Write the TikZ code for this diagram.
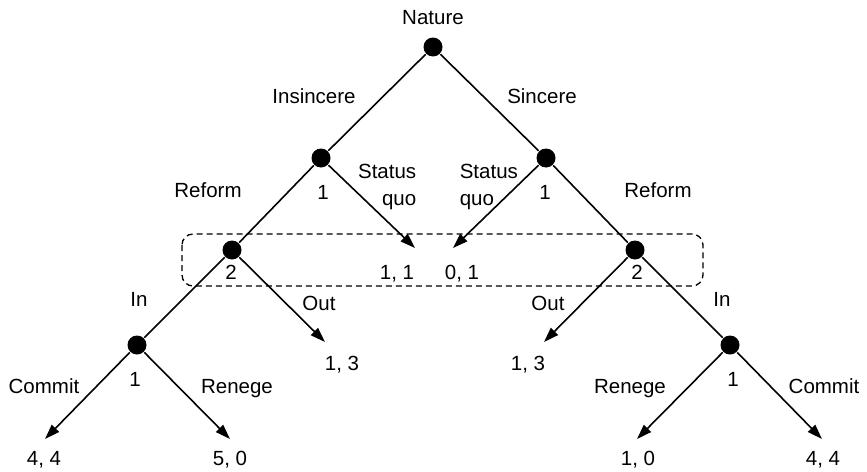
\documentclass[tikz,border=0pt]{standalone}
\usepackage{fontspec}
\setmainfont{Liberation Sans}
\usetikzlibrary{arrows.meta}

\begin{document}
\begin{tikzpicture}[x=1pt,y=-1pt,
  font=\fontsize{20.5}{27}\selectfont,
  line width=1.6pt,
  >={Triangle[length=15pt,width=10pt]},
  dot/.style={circle,fill,inner sep=0pt,minimum size=19pt},
  lbl/.style={inner sep=0pt,anchor=base}]
  \useasboundingbox (0,0) rectangle (867,471);
  % decision nodes
  \node[dot] (nat) at (433,47) {};
  \node[dot] (l1) at (321,158) {};
  \node[dot] (r1) at (546,158) {};
  \node[dot] (l2) at (232,250) {};
  \node[dot] (r2) at (635,250) {};
  \node[dot] (l3) at (137,345) {};
  \node[dot] (r3) at (730,345) {};
  % arrow ends
  \coordinate (sqL) at (415,248);
  \coordinate (sqR) at (453,248);
  \coordinate (outL) at (325,342);
  \coordinate (outR) at (544,342);
  \coordinate (cmL) at (45,439);
  \coordinate (rnL) at (230,439);
  \coordinate (rnR) at (637,439);
  \coordinate (cmR) at (822,439);

  % information set of player 2
  \draw[line width=1.3pt,rounded corners=11pt,dash pattern=on 6pt off 4pt]
    (182,234) rectangle (703,286);

  \path
  (nat) edge (l1)
        edge (r1)
  (l1) edge (l2)
       edge [->] (sqL)
  (r1) edge (r2)
       edge [->] (sqR)
  (l2) edge (l3)
       edge [->] (outL)
  (r2) edge (r3)
       edge [->] (outR)
  (l3) edge [->] (cmL)
       edge [->] (rnL)
  (r3) edge [->] (rnR)
       edge [->] (cmR);

  % labels
  \node[lbl] (tNat) at (433,24.5) {Nature};
  \node[lbl] (tIns) at (314,103.5) {Insincere};
  \node[lbl] (tSin) at (542,103.5) {Sincere};
  \node[lbl,anchor=north east,align=right] (tSqL) at (417,163.5) {Status\\quo};
  \node[lbl,anchor=north west,align=left] (tSqR) at (459,163.5) {Status\\quo};
  \node[lbl] (tRefL) at (208,197.5) {Reform};
  \node[lbl] (tRefR) at (658,197.5) {Reform};
  \node[lbl] (pL1) at (323,199.5) {1};
  \node[lbl] (pR1) at (545,199.5) {1};
  \node[lbl] (pL2) at (231,279.5) {2};
  \node[lbl] (pR2) at (637,279.5) {2};
  \node[lbl] (v11) at (397,279) {1, 1};
  \node[lbl] (v01) at (462,279) {0, 1};
  \node[lbl] (tInL) at (139,306.5) {In};
  \node[lbl] (tInR) at (722,306.5) {In};
  \node[lbl] (tOutL) at (319,310.5) {Out};
  \node[lbl] (tOutR) at (548,310.5) {Out};
  \node[lbl] (v13L) at (342,370) {1, 3};
  \node[lbl] (v13R) at (528,370) {1, 3};
  \node[lbl] (pL3) at (135,386.5) {1};
  \node[lbl] (pR3) at (733,386.5) {1};
  \node[lbl] (tComL) at (44,393.5) {Commit};
  \node[lbl] (tRenL) at (237,393.5) {Renege};
  \node[lbl] (tRenR) at (630,393.5) {Renege};
  \node[lbl] (tComR) at (824,393.5) {Commit};
  \node[lbl] (v44L) at (44,465) {4, 4};
  \node[lbl] (v50) at (230,465) {5, 0};
  \node[lbl] (v10) at (638,465) {1, 0};
  \node[lbl] (v44R) at (823,465) {4, 4};
\end{tikzpicture}
\end{document}
